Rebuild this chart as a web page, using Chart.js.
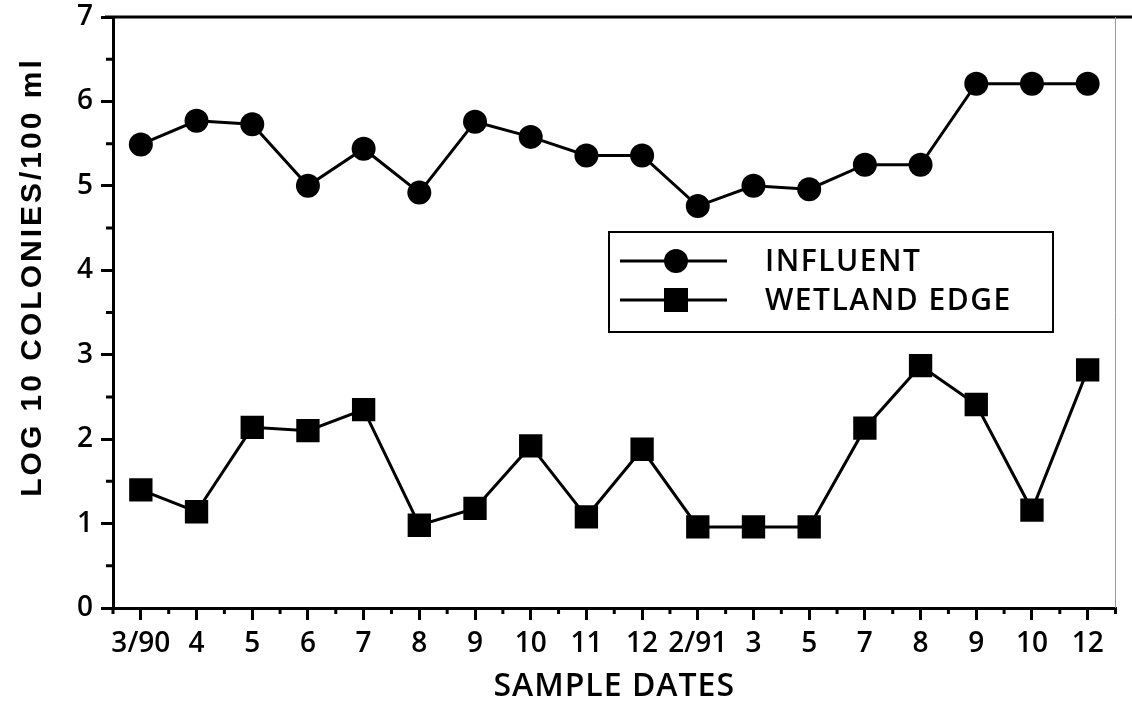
<!DOCTYPE html>
<html>
<head>
<meta charset="utf-8">
<script src="https://cdn.jsdelivr.net/npm/chart.js@4.4.0/dist/chart.umd.min.js"></script>
<style>
  html, body { margin: 0; padding: 0; background: #fff; }
  #chart { display: block; }
</style>
</head>
<body>
<canvas id="chart" width="1132" height="702"></canvas>
<script>
// Data
const sampleDates = ["3/90", "4", "5", "6", "7", "8", "9", "10", "11", "12", "2/91", "3", "5", "7", "8", "9", "10", "12"];
const influent = [5.49, 5.77, 5.73, 5.0, 5.44, 4.92, 5.76, 5.58, 5.36, 5.36, 4.76, 5.0, 4.96, 5.25, 5.25, 6.21, 6.21, 6.21];
const wetlandEdge = [1.40, 1.14, 2.14, 2.10, 2.35, 0.98, 1.18, 1.92, 1.08, 1.88, 0.96, 0.96, 0.96, 2.13, 2.87, 2.41, 1.16, 2.82];
const yMin = 0;
const yMax = 7;

const tickFont = { family: "'Open Sans', sans-serif", size: 28, weight: "600" };

// Minor ticks, top frame line, axis titles and the boxed legend
const extras = {
  id: "extras",
  afterDraw(chart) {
    const ctx = chart.ctx;
    const area = chart.chartArea;
    const x = chart.scales.x;
    const y = chart.scales.y;
    ctx.save();
    ctx.strokeStyle = "#000";
    ctx.lineWidth = 3;

    // top frame
    ctx.beginPath();
    ctx.moveTo(area.left - 8, area.top);
    ctx.lineTo(chart.width, area.top);
    ctx.stroke();

    // faint right edge
    ctx.save();
    ctx.strokeStyle = "#999";
    ctx.lineWidth = 1;
    ctx.beginPath();
    ctx.moveTo(area.right, area.top);
    ctx.lineTo(area.right, area.bottom);
    ctx.stroke();
    ctx.restore();

    // minor x ticks at category boundaries
    ctx.beginPath();
    for (let i = 0; i <= sampleDates.length; i++) {
      const px = x.getPixelForValue(i - 0.5);
      ctx.moveTo(px, area.bottom);
      ctx.lineTo(px, area.bottom + 6);
    }
    // minor y ticks at halves
    for (let v = yMin + 0.5; v < yMax; v += 1) {
      const py = y.getPixelForValue(v);
      ctx.moveTo(area.left, py);
      ctx.lineTo(area.left - 7, py);
    }
    ctx.stroke();

    // axis titles
    ctx.fillStyle = "#000";
    ctx.textAlign = "center";
    ctx.textBaseline = "middle";
    ctx.font = "bold 30px 'Liberation Sans', Arial, sans-serif";
    ctx.letterSpacing = "3px";
    ctx.save();
    ctx.translate(33, 277);
    ctx.rotate(-Math.PI / 2);
    ctx.fillText("LOG 10 COLONIES/100 ml", 0, 0);
    ctx.restore();

    ctx.font = "600 32px 'Open Sans', sans-serif";
    ctx.letterSpacing = "1px";
    ctx.fillText("SAMPLE DATES", (area.left + area.right) / 2, 687);
    ctx.letterSpacing = "0px";

    // legend box
    const bx = 609, by = 232, bw = 444, bh = 100;
    ctx.lineWidth = 2;
    ctx.strokeRect(bx, by, bw, bh);
    const rows = [by + 29, by + 68];
    chart.data.datasets.forEach((ds, i) => {
      const ry = rows[i];
      ctx.lineWidth = 3;
      ctx.beginPath();
      ctx.moveTo(620, ry);
      ctx.lineTo(727, ry);
      ctx.stroke();
      ctx.fillStyle = "#000";
      if (ds.pointStyle === "circle") {
        ctx.beginPath();
        ctx.arc(676, ry, 12, 0, Math.PI * 2);
        ctx.fill();
      } else {
        ctx.fillRect(676 - 12, ry - 12, 24, 24);
      }
      ctx.textAlign = "left";
      ctx.font = "600 30px 'Open Sans', sans-serif";
      ctx.letterSpacing = "1.5px";
      ctx.fillText(ds.label, 765, ry + 1);
      ctx.letterSpacing = "0px";
    });
    ctx.restore();
  }
};

new Chart(document.getElementById("chart"), {
  type: "line",
  data: {
    labels: sampleDates,
    datasets: [
      {
        label: "INFLUENT",
        data: influent,
        borderColor: "#000",
        backgroundColor: "#000",
        borderWidth: 3,
        pointStyle: "circle",
        pointRadius: 12,
        pointBackgroundColor: "#000",
        pointBorderWidth: 0,
        tension: 0
      },
      {
        label: "WETLAND EDGE",
        data: wetlandEdge,
        borderColor: "#000",
        backgroundColor: "#000",
        borderWidth: 3,
        pointStyle: "rect",
        pointRadius: 16.5,
        pointBackgroundColor: "#000",
        pointBorderWidth: 0,
        tension: 0
      }
    ]
  },
  options: {
    responsive: false,
    animation: false,
    layout: { padding: { top: 17, right: 11, left: 0, bottom: 0 } },
    plugins: {
      legend: { display: false },
      tooltip: { enabled: false }
    },
    scales: {
      x: {
        type: "category",
        offset: true,
        grid: { display: true, drawOnChartArea: false, drawTicks: true, tickLength: 12, offset: false, color: "#000", lineWidth: 3 },
        border: { display: true, color: "#000", width: 3 },
        ticks: { font: tickFont, color: "#000", padding: 7, maxRotation: 0, autoSkip: false },
        afterFit: (s) => { s.height = 94; s.paddingLeft = 0; s.paddingRight = 0; }
      },
      y: {
        min: yMin,
        max: yMax,
        grid: { display: true, drawOnChartArea: false, drawTicks: true, tickLength: 12, color: "#000", lineWidth: 3 },
        border: { display: true, color: "#000", width: 3 },
        ticks: { font: tickFont, color: "#000", stepSize: 1, padding: 8 },
        afterFit: (s) => { s.width = 113; s.paddingTop = 0; s.paddingBottom = 0; }
      }
    }
  },
  plugins: [extras]
});
</script>
</body>
</html>
